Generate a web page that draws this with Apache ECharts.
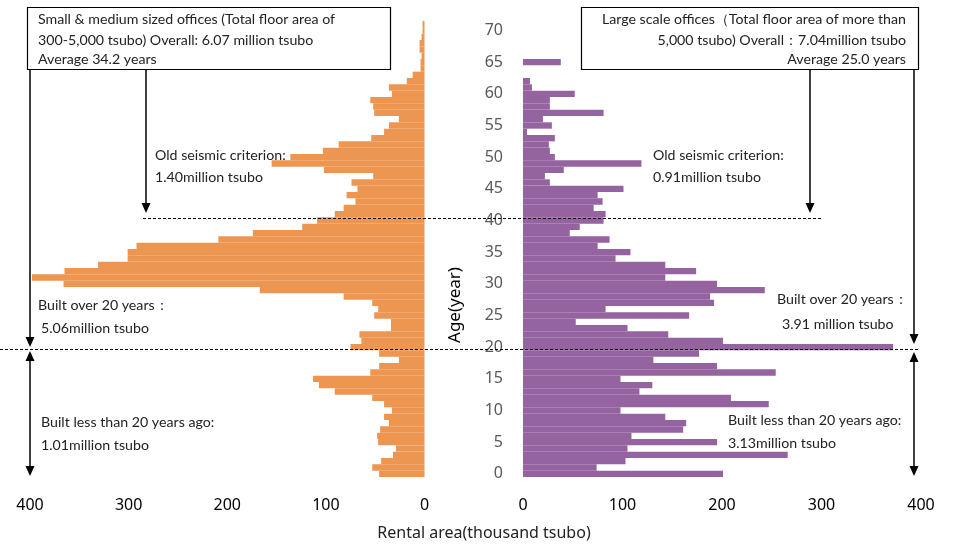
<!DOCTYPE html>
<html><head><meta charset="utf-8">
<script src="https://cdn.jsdelivr.net/npm/echarts@6/dist/echarts.min.js"></script>
<style>html,body{margin:0;padding:0;background:#fff}#c{width:964px;height:544px}</style>
</head><body><div id="c"></div>
<script>
// Building age (years), bottom to top
const ages = ['0','1','2','3','4','5','6','7','8','9','10','11','12','13','14','15','16','17','18','19',
  '20','21','22','23','24','25','26','27','28','29','30','31','32','33','34','35','36','37','38','39',
  '40','41','42','43','44','45','46','47','48','49','50','51','52','53','54','55','56','57','58','59',
  '60','61','62','63','64','65','66','67','68','69','70','71'];
// Small & medium sized offices, rental area (thousand tsubo)
const smallMedium = [46,53,44,32,29,47,48,45,36,41,33,41,53,91,107,113,55,46,26,46,
  75,64,66,34,34,51,47,53,82,167,366,398,365,331,301,301,292,209,174,124,
  109,91,82,70,79,68,74,52,102,155,136,103,87,54,41,36,26,51,52,55,
  33,36,18,12,4,4,3,5,5,3,2,2];
// Large scale offices, rental area (thousand tsubo)
const largeScale = [201,74,103,266,105,195,109,161,164,143,98,247,209,117,130,98,254,195,131,177,
  372,201,146,105,53,167,83,192,188,243,195,143,174,143,93,108,75,87,47,57,
  81,83,71,80,75,101,27,22,41,119,32,27,26,32,4,29,20,81,27,27,
  52,9,7,0,0,38,0,0,0,0,0,0];
const xTickStep = 100;
const xMax = 400;

const ORANGE = '#ED9652';
const PURPLE = '#95639F';
const FONT = 'Lato, "Noto Sans", sans-serif';

const chart = echarts.init(document.getElementById('c'), null, {renderer: 'canvas'});

function txt(t, x, y, align) {
  return {type: 'text', z: 120, style: {text: t, x: x, y: y, font: '14.2px ' + FONT, fill: '#222',
    align: align || 'left', verticalAlign: 'middle', textAlign: align || 'left', textVerticalAlign: 'middle'}};
}
function vline(x, y1, y2) {
  return {type: 'line', z: 110, shape: {x1: x, y1: y1, x2: x, y2: y2}, style: {stroke: '#000', lineWidth: 1.5}};
}
function arrowDown(x, y) {
  return {type: 'polygon', z: 110, shape: {points: [[x - 4.5, y - 10], [x + 4.5, y - 10], [x, y]]}, style: {fill: '#000'}};
}
function arrowUp(x, y) {
  return {type: 'polygon', z: 110, shape: {points: [[x - 4.5, y + 10], [x + 4.5, y + 10], [x, y]]}, style: {fill: '#000'}};
}
function dash(x1, x2, y) {
  return {type: 'line', z: 115, shape: {x1: x1, y1: y, x2: x2, y2: y}, style: {stroke: '#000', lineWidth: 1, lineDash: [3, 2]}};
}

const xAxisCommon = {
  type: 'value', min: 0, max: xMax, interval: xTickStep,
  axisLine: {show: false}, axisTick: {show: false}, splitLine: {show: false},
  axisLabel: {color: '#000', fontSize: 16, margin: 20, fontFamily: '"Noto Sans", sans-serif'}
};

chart.setOption({
  animation: false,
  backgroundColor: '#fff',
  grid: [
    {left: 30, width: 394.5, top: 21, height: 456},
    {left: 523, width: 398, top: 21, height: 456}
  ],
  xAxis: [
    Object.assign({gridIndex: 0, inverse: true}, xAxisCommon),
    Object.assign({gridIndex: 1}, xAxisCommon)
  ],
  yAxis: [
    {gridIndex: 0, type: 'category', data: ages, position: 'right',
      axisLine: {show: false}, axisTick: {show: false}, axisLabel: {show: false}},
    {gridIndex: 1, type: 'category', data: ages, position: 'left',
      axisLine: {show: false}, axisTick: {show: false},
      axisLabel: {color: '#595959', fontSize: 16, margin: 20, fontFamily: '"Noto Sans", sans-serif',
        interval: function (i) { return i % 5 === 0; }}}
  ],
  series: [
    {type: 'bar', xAxisIndex: 0, yAxisIndex: 0, data: smallMedium, barCategoryGap: '0%', barWidth: '100%',
      itemStyle: {color: ORANGE}},
    {type: 'bar', xAxisIndex: 1, yAxisIndex: 1, data: largeScale, barCategoryGap: '0%', barWidth: '100%',
      itemStyle: {color: PURPLE}}
  ],
  graphic: [
    // boxes
    {type: 'rect', z: 105, shape: {x: 27.5, y: 7.5, width: 363, height: 62}, style: {fill: '#fff', stroke: '#000', lineWidth: 1.2}},
    {type: 'rect', z: 105, shape: {x: 581.5, y: 7.5, width: 337, height: 62}, style: {fill: '#fff', stroke: '#000', lineWidth: 1.2}},
    txt('Small & medium sized offices (Total floor area of', 38, 19),
    txt('300-5,000 tsubo) Overall: 6.07 million tsubo', 38, 40),
    txt('Average 34.2 years', 38, 59),
    txt('Large scale offices\uFF08Total floor area of more than', 906, 19, 'right'),
    txt('5,000 tsubo) Overall\uFF1A7.04million tsubo', 906, 40, 'right'),
    txt('Average 25.0 years', 906, 59, 'right'),
    // arrows left
    vline(30, 70, 340), arrowDown(30, 347),
    vline(30, 358, 468), arrowUp(30, 351), arrowDown(30, 476),
    vline(146, 70, 205), arrowDown(146, 213),
    // arrows right
    vline(810, 70, 205), arrowDown(810, 213),
    vline(914, 70, 336), arrowDown(914, 344),
    vline(914, 359, 468), arrowUp(914, 352), arrowDown(914, 476),
    // dashed lines
    dash(143, 822, 218.5),
    dash(0, 920, 349.5),
    // annotations
    txt('Old seismic criterion:', 155, 155),
    txt('1.40million tsubo', 155, 177),
    txt('Built over 20 years\uFF1A', 38, 305),
    txt('5.06million tsubo', 41, 328),
    txt('Built less than 20 years ago:', 41, 422),
    txt('1.01million tsubo', 41, 445),
    txt('Old seismic criterion:', 653, 155),
    txt('0.91million tsubo', 653, 177),
    txt('Built over 20 years\uFF1A', 777, 299),
    txt('3.91 million tsubo', 782, 324),
    txt('Built less than 20 years ago:', 728, 420),
    txt('3.13million tsubo', 728, 443),
    // axis titles
    {type: 'text', z: 120, rotation: Math.PI / 2, x: 455, y: 305,
      style: {text: 'Age(year)', font: '17px "Noto Sans", sans-serif', fill: '#000',
        align: 'center', verticalAlign: 'middle', textAlign: 'center', textVerticalAlign: 'middle'}},
    {type: 'text', z: 120, x: 484, y: 533,
      style: {text: 'Rental area(thousand tsubo)', font: '16px "Noto Sans", sans-serif', fill: '#222',
        align: 'center', verticalAlign: 'middle', textAlign: 'center', textVerticalAlign: 'middle'}}
  ]
});
</script>
</body></html>
